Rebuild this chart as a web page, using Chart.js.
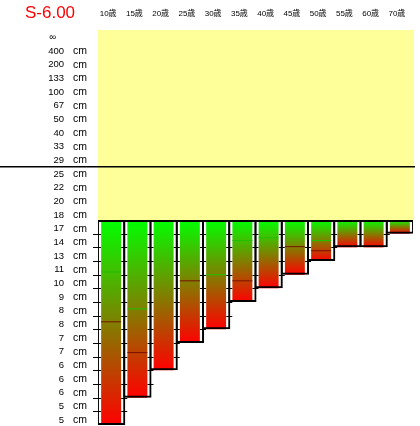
<!DOCTYPE html>
<html>
<head>
<meta charset="utf-8">
<script src="https://cdn.jsdelivr.net/npm/chart.js@4.4.1/dist/chart.umd.min.js"></script>
<style>
  html, body { margin: 0; padding: 0; background: #fff; }
</style>
</head>
<body>
<canvas id="chart" width="420" height="426"></canvas>
<script>
// columns (age groups)
const ages = ['10歳', '15歳', '20歳', '25歳', '30歳', '35歳', '40歳', '45歳', '50歳', '55歳', '60歳', '70歳'];
// row labels, distance in cm (index 0 = infinity)
const distLabels = ['∞', '400', '200', '133', '100', '67', '50', '40', '33', '29',
  '25', '22', '20', '18', '17', '14', '13', '11', '10', '9', '8', '8', '7', '7', '6', '6', '6', '5', '5'];
// every bar hangs from the 18 cm row down to its own row
const barStart = 13;
const barEnd = [28, 26, 24, 22, 21, 19, 18, 17, 16, 15, 15, 14];
// thin marker lines seen inside some bars (row position)
const greenMarks = [16.8, 19.5, null, null, 17.0, 14.5, 14.3, null, 14.5, null, null, null];
const darkMarks = [20.45, 22.7, null, 17.45, null, 17.45, null, 14.95, 15.25, null, null, null];
const dividerRow = 9.1;
const yellowRows = [-0.9, 13];
const titleText = 'S-6.00';

const FONT = '"Liberation Sans", Arial, "Noto Sans CJK JP", sans-serif';

function barGradient(c) {
  const chart = c.chart;
  const y = chart.scales.y;
  if (!chart.chartArea || !y || !c.raw) return '#00ff00';
  const top = y.getPixelForValue(c.raw[0]);
  const bot = y.getPixelForValue(c.raw[1]);
  const g = chart.ctx.createLinearGradient(0, top, 0, bot);
  g.addColorStop(0, '#00ff00');
  g.addColorStop(1, '#ff0000');
  return g;
}

const decorations = {
  id: 'decorations',
  beforeDatasetsDraw(chart) {
    const { ctx, chartArea, scales: { y } } = chart;
    const top = y.getPixelForValue(yellowRows[0]);
    const bot = y.getPixelForValue(yellowRows[1]);
    ctx.save();
    ctx.fillStyle = '#ffff99';
    ctx.fillRect(chartArea.left, top, chartArea.right - chartArea.left + 1, bot - top);
    ctx.restore();
  },
  afterDatasetsDraw(chart) {
    const { ctx, chartArea, scales: { y } } = chart;
    const cw = (chartArea.right - chartArea.left) / ages.length;
    ctx.save();
    // small row ticks on column separators
    ctx.strokeStyle = '#000';
    ctx.lineWidth = 1;
    for (let r = barStart + 1; r < distLabels.length; r++) {
      const py = Math.round(y.getPixelForValue(r)) + 0.5;
      for (let j = 0; j <= ages.length; j++) {
        const col = j === 0 ? 0 : j - 1;
        if (barEnd[col] <= r) continue;
        const px = chartArea.left + j * cw;
        ctx.beginPath();
        ctx.moveTo(px - (j === 0 ? 5 : 3), py);
        ctx.lineTo(px + 3, py);
        ctx.stroke();
      }
    }
    // divider line between 29 cm and 25 cm
    const dy = y.getPixelForValue(dividerRow);
    ctx.lineWidth = 1.5;
    ctx.beginPath();
    ctx.moveTo(0, dy);
    ctx.lineTo(chartArea.right + 2, dy);
    ctx.stroke();
    ctx.restore();
  },
  afterDraw(chart) {
    const { ctx, scales: { y } } = chart;
    ctx.save();
    ctx.fillStyle = '#000';
    ctx.font = '10.5px ' + FONT;
    ctx.textAlign = 'left';
    ctx.textBaseline = 'middle';
    for (let i = 1; i < distLabels.length; i++) {
      ctx.fillText('cm', 73, y.getPixelForValue(i) - 5);
    }
    ctx.fillStyle = '#ff0000';
    ctx.font = '17px ' + FONT;
    ctx.textAlign = 'center';
    ctx.fillText(titleText, 50, 13);
    ctx.restore();
  }
};

const rows = barEnd.map(e => [barStart, e]);

const markLine = (values, color) => ({
  type: 'line',
  data: values,
  showLine: false,
  pointStyle: 'line',
  pointRadius: 10,
  pointHoverRadius: 10,
  pointBorderWidth: 1,
  pointBorderColor: color,
  borderColor: color,
  order: -1
});

new Chart(document.getElementById('chart'), {
  type: 'bar',
  data: {
    labels: ages,
    datasets: [
      {
        label: 'box',
        data: rows,
        backgroundColor: 'rgba(0,0,0,0)',
        borderColor: '#000',
        borderWidth: 2,
        borderSkipped: false,
        barPercentage: 1.08,
        categoryPercentage: 1,
        grouped: false,
        order: 0
      },
      {
        label: 'range',
        data: rows,
        backgroundColor: barGradient,
        borderWidth: 0,
        barPercentage: 0.76,
        categoryPercentage: 1,
        grouped: false,
        order: 1
      },
      markLine(greenMarks, '#1fbf00'),
      markLine(darkMarks, '#7a0f00')
    ]
  },
  options: {
    responsive: false,
    animation: false,
    layout: { autoPadding: false, padding: { left: 0, right: 7, top: 0, bottom: 0 } },
    plugins: {
      legend: { display: false },
      tooltip: { enabled: false }
    },
    scales: {
      x: {
        position: 'top',
        offset: true,
        grid: { display: false, drawTicks: false },
        border: { display: false },
        ticks: {
          color: '#000',
          font: { size: 8, family: FONT },
          padding: 11,
          labelOffset: -3,
          maxRotation: 0,
          autoSkip: false
        },
        afterFit(s) { s.height = 30; s.paddingLeft = 0; s.paddingRight = 0; }
      },
      y: {
        reverse: true,
        bounds: 'data',
        min: yellowRows[0],
        max: 28.07,
        grid: { display: false, drawTicks: false },
        border: { display: false },
        afterBuildTicks(s) { s.ticks = distLabels.map((_, i) => ({ value: i })); },
        ticks: {
          color: '#000',
          font: { size: 9.5, family: FONT },
          padding: 34,
          labelOffset: -5,
          autoSkip: false,
          callback: (v) => v === 0 ? '∞   ' : distLabels[v]
        },
        afterFit(s) { s.width = 98; s.paddingTop = 0; s.paddingBottom = 0; }
      }
    }
  },
  plugins: [decorations]
});
</script>
</body>
</html>
